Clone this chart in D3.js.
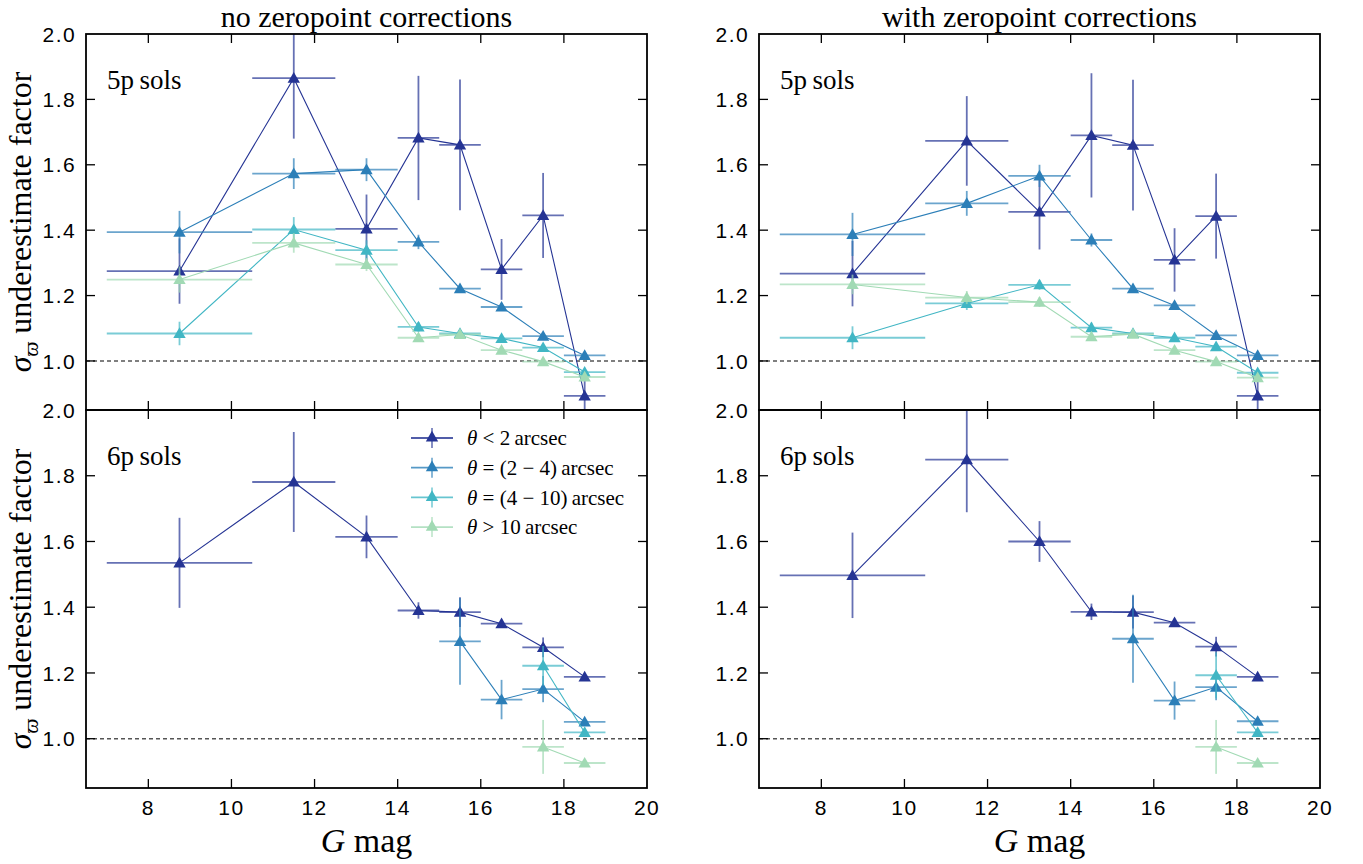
<!DOCTYPE html>
<html>
<head>
<meta charset="utf-8">
<script src="https://cdn.jsdelivr.net/npm/d3@7"></script>
<style>
  html, body { margin: 0; padding: 0; background: #fff; }
  svg { display: block; }
</style>
</head>
<body>
<svg id="fig" width="1363" height="864"></svg>
<script>
// Magnitude bins: centres and half-widths
const magCentres = [8.75, 11.5, 13.25, 14.5, 15.5, 16.5, 17.5, 18.5];
const magHalfWidths = [1.75, 1.0, 0.75, 0.5, 0.5, 0.5, 0.5, 0.5];

const seriesNames = ["lt2", "t2to4", "t4to10", "gt10"];
const seriesColours = ["#253494", "#2c7fb8", "#41b6c4", "#a1dab4"];

const xTicks = [8, 10, 12, 14, 16, 18, 20];
const yTicks = [1.0, 1.2, 1.4, 1.6, 1.8, 2.0];

const columnTitles = ["no zeropoint corrections", "with zeropoint corrections"];
const rowLabels = ["5p\u2009sols", "6p\u2009sols"];

// 5p solutions, no zeropoint corrections
const p5NoZpLt2 = [1.275, 1.865, 1.404, 1.682, 1.661, 1.280, 1.445, 0.893];
const p5NoZpLt2Err = [0.10, 0.185, 0.105, 0.19, 0.20, 0.093, 0.13, 0.06];
const p5NoZp2to4 = [1.394, 1.573, 1.585, 1.364, 1.221, 1.165, 1.076, 1.017];
const p5NoZp2to4Err = [0.065, 0.047, 0.035, 0.022, 0.012, 0.012, 0.012, 0.010];
const p5NoZp4to10 = [1.084, 1.402, 1.339, 1.104, 1.084, 1.069, 1.041, 0.966];
const p5NoZp4to10Err = [0.036, 0.038, 0.030, 0.015, 0.010, 0.010, 0.010, 0.010];
const p5NoZpGt10 = [1.249, 1.361, 1.295, 1.071, 1.081, 1.033, 0.998, 0.951];
const p5NoZpGt10Err = [0.040, 0.030, 0.020, 0.010, 0.008, 0.008, 0.008, 0.008];

// 5p solutions, with zeropoint corrections
const p5ZpLt2 = [1.267, 1.673, 1.456, 1.690, 1.660, 1.309, 1.443, 0.893];
const p5ZpLt2Err = [0.10, 0.137, 0.115, 0.19, 0.20, 0.097, 0.13, 0.06];
const p5Zp2to4 = [1.387, 1.482, 1.566, 1.370, 1.221, 1.170, 1.078, 1.017];
const p5Zp2to4Err = [0.066, 0.038, 0.034, 0.020, 0.012, 0.012, 0.012, 0.010];
const p5Zp4to10 = [1.071, 1.176, 1.233, 1.102, 1.084, 1.071, 1.044, 0.964];
const p5Zp4to10Err = [0.035, 0.020, 0.015, 0.015, 0.010, 0.010, 0.010, 0.010];
const p5ZpGt10 = [1.234, 1.194, 1.180, 1.074, 1.082, 1.033, 0.998, 0.949];
const p5ZpGt10Err = [0.030, 0.020, 0.015, 0.010, 0.008, 0.008, 0.008, 0.008];

// 6p solutions, no zeropoint corrections
const p6NoZpLt2 = [1.535, 1.781, 1.614, 1.390, 1.385, 1.350, 1.278, 1.188];
const p6NoZpLt2Err = [0.137, 0.152, 0.065, 0.025, 0.045, 0.012, 0.030, 0.010];
const p6NoZp2to4 = [null, null, null, null, 1.296, 1.119, 1.151, 1.051];
const p6NoZp2to4Err = [null, null, null, null, 0.132, 0.060, 0.040, 0.010];
const p6NoZp4to10 = [null, null, null, null, null, null, 1.222, 1.019];
const p6NoZp4to10Err = [null, null, null, null, null, null, 0.060, 0.010];
const p6NoZpGt10 = [null, null, null, null, null, null, 0.975, 0.926];
const p6NoZpGt10Err = [null, null, null, null, null, null, 0.082, 0.010];

// 6p solutions, with zeropoint corrections
const p6ZpLt2 = [1.497, 1.849, 1.600, 1.386, 1.385, 1.353, 1.280, 1.188];
const p6ZpLt2Err = [0.130, 0.160, 0.062, 0.025, 0.050, 0.012, 0.030, 0.010];
const p6Zp2to4 = [null, null, null, null, 1.304, 1.116, 1.157, 1.053];
const p6Zp2to4Err = [null, null, null, null, 0.134, 0.058, 0.040, 0.010];
const p6Zp4to10 = [null, null, null, null, null, null, 1.193, 1.019];
const p6Zp4to10Err = [null, null, null, null, null, null, 0.070, 0.010];
const p6ZpGt10 = [null, null, null, null, null, null, 0.975, 0.926];
const p6ZpGt10Err = [null, null, null, null, null, null, 0.082, 0.010];

// Panel table built from the arrays above (row, column)
const panels = [
  { row: 0, col: 0, series: [[p5NoZpLt2, p5NoZpLt2Err], [p5NoZp2to4, p5NoZp2to4Err], [p5NoZp4to10, p5NoZp4to10Err], [p5NoZpGt10, p5NoZpGt10Err]] },
  { row: 0, col: 1, series: [[p5ZpLt2, p5ZpLt2Err], [p5Zp2to4, p5Zp2to4Err], [p5Zp4to10, p5Zp4to10Err], [p5ZpGt10, p5ZpGt10Err]] },
  { row: 1, col: 0, series: [[p6NoZpLt2, p6NoZpLt2Err], [p6NoZp2to4, p6NoZp2to4Err], [p6NoZp4to10, p6NoZp4to10Err], [p6NoZpGt10, p6NoZpGt10Err]] },
  { row: 1, col: 1, series: [[p6ZpLt2, p6ZpLt2Err], [p6Zp2to4, p6Zp2to4Err], [p6Zp4to10, p6Zp4to10Err], [p6ZpGt10, p6ZpGt10Err]] }
];

// Layout
const colX = [[86, 647], [759, 1320]];
const rowY = [[34, 410], [410, 788]];
const xDomain = [6.5, 20];
const yDomain = [0.85, 2.0];

const svg = d3.select("#fig");
const serif = "'Liberation Serif', 'DejaVu Serif', serif";
const sans = "'Liberation Sans', Arial, sans-serif";

const tri = d3.symbol().type(d3.symbolTriangle).size(66);

panels.forEach((p, pi) => {
  const [x0, x1] = colX[p.col];
  const [y0, y1] = rowY[p.row];
  const x = d3.scaleLinear().domain(xDomain).range([x0, x1]);
  const y = d3.scaleLinear().domain(yDomain).range([y1, y0]);

  const clipId = "clip" + pi;
  svg.append("clipPath").attr("id", clipId)
    .append("rect").attr("x", x0).attr("y", y0).attr("width", x1 - x0).attr("height", y1 - y0);

  const g = svg.append("g");

  // reference line at factor 1
  g.append("line")
    .attr("x1", x0).attr("x2", x1)
    .attr("y1", y(1.0)).attr("y2", y(1.0))
    .attr("stroke", "#555").attr("stroke-width", 1.4)
    .attr("stroke-dasharray", "4,3");

  const plot = g.append("g").attr("clip-path", `url(#${clipId})`);

  p.series.forEach(([vals, errs], si) => {
    const colour = seriesColours[si];
    const pts = magCentres.map((m, i) => ({ m, hw: magHalfWidths[i], v: vals[i], e: errs[i] }))
      .filter(d => d.v !== null);
    const sg = plot.append("g").attr("class", "series-" + seriesNames[si]);

    // error bars
    sg.selectAll("line.xerr").data(pts).join("line").attr("class", "xerr")
      .attr("x1", d => x(d.m - d.hw)).attr("x2", d => x(d.m + d.hw))
      .attr("y1", d => y(d.v)).attr("y2", d => y(d.v))
      .attr("stroke", colour).attr("stroke-opacity", 0.7).attr("stroke-width", 1.8);
    sg.selectAll("line.yerr").data(pts).join("line").attr("class", "yerr")
      .attr("x1", d => x(d.m)).attr("x2", d => x(d.m))
      .attr("y1", d => y(d.v - d.e)).attr("y2", d => y(d.v + d.e))
      .attr("stroke", colour).attr("stroke-opacity", 0.7).attr("stroke-width", 1.8);

    // connecting line
    sg.append("path").datum(pts)
      .attr("fill", "none").attr("stroke", colour).attr("stroke-width", 1.1)
      .attr("d", d3.line().x(d => x(d.m)).y(d => y(d.v)));

    // markers
    sg.selectAll("path.mk").data(pts).join("path").attr("class", "mk")
      .attr("d", tri)
      .attr("transform", d => `translate(${x(d.m)},${y(d.v) + 1})`)
      .attr("fill", colour);
  });

  // frame
  g.append("rect").attr("x", x0).attr("y", y0).attr("width", x1 - x0).attr("height", y1 - y0)
    .attr("fill", "none").attr("stroke", "#000").attr("stroke-width", 1.8);

  // inward ticks on all sides
  const tl = 9;
  const xt = xTicks.filter(t => t > xDomain[0] && t < xDomain[1]);
  g.selectAll("line.xtb").data(xt).join("line")
    .attr("x1", d => x(d)).attr("x2", d => x(d)).attr("y1", y1).attr("y2", y1 - tl)
    .attr("stroke", "#000").attr("stroke-width", 1.3);
  g.selectAll("line.xtt").data(xt).join("line")
    .attr("x1", d => x(d)).attr("x2", d => x(d)).attr("y1", y0).attr("y2", y0 + tl)
    .attr("stroke", "#000").attr("stroke-width", 1.3);
  const yt = yTicks.filter(t => t > yDomain[0] && t < yDomain[1]);
  g.selectAll("line.ytl").data(yt).join("line")
    .attr("x1", x0).attr("x2", x0 + tl).attr("y1", d => y(d)).attr("y2", d => y(d))
    .attr("stroke", "#000").attr("stroke-width", 1.3);
  g.selectAll("line.ytr").data(yt).join("line")
    .attr("x1", x1).attr("x2", x1 - tl).attr("y1", d => y(d)).attr("y2", d => y(d))
    .attr("stroke", "#000").attr("stroke-width", 1.3);

  // y tick labels
  g.selectAll("text.ylab").data(yTicks).join("text")
    .attr("x", x0 - 10).attr("y", d => y(d))
    .attr("dy", "0.36em").attr("text-anchor", "end")
    .attr("font-family", sans).attr("font-size", 21).attr("letter-spacing", 1.4)
    .attr("fill", "#000")
    .text(d => d3.format(".1f")(d));

  // x tick labels on the bottom row
  if (p.row === 1) {
    g.selectAll("text.xlab").data(xTicks).join("text")
      .attr("x", d => x(d)).attr("y", y1 + 27)
      .attr("text-anchor", "middle")
      .attr("font-family", sans).attr("font-size", 21).attr("letter-spacing", 1.4)
      .attr("fill", "#000")
      .text(d => d);

    const xl = g.append("text")
      .attr("x", (x0 + x1) / 2).attr("y", y1 + 64)
      .attr("text-anchor", "middle")
      .attr("font-family", serif).attr("font-size", 34).attr("fill", "#000");
    xl.append("tspan").attr("font-style", "italic").text("G");
    xl.append("tspan").text(" mag");
  }

  // title on the top row
  if (p.row === 0) {
    g.append("text")
      .attr("x", (x0 + x1) / 2).attr("y", 27)
      .attr("text-anchor", "middle")
      .attr("font-family", serif).attr("font-size", 30).attr("fill", "#000")
      .text(columnTitles[p.col]);
  }

  // panel tag
  g.append("text")
    .attr("x", x0 + 21).attr("y", y0 + 55)
    .attr("font-family", serif).attr("font-size", 27).attr("fill", "#000")
    .text(rowLabels[p.row]);

  // y axis label on the left column
  if (p.col === 0) {
    const cy = (y0 + y1) / 2;
    const yl = g.append("text")
      .attr("transform", `translate(31,${cy}) rotate(-90)`)
      .attr("text-anchor", "middle")
      .attr("font-family", serif).attr("font-size", 32).attr("fill", "#000");
    yl.append("tspan").attr("font-style", "italic").text("\u03c3");
    yl.append("tspan").attr("font-style", "italic").attr("font-size", 21).attr("dy", 7).text("\u03d6");
    yl.append("tspan").attr("dy", -7).text(" underestimate factor");
  }

  // legend inside the lower-left panel
  if (p.row === 1 && p.col === 0) {
    const legendRows = [
      { pre: " < 2\u2009arcsec" },
      { pre: " = (2 \u2212 4)\u2009arcsec" },
      { pre: " = (4 \u2212 10)\u2009arcsec" },
      { pre: " > 10\u2009arcsec" }
    ];
    const lg = g.append("g");
    legendRows.forEach((r, i) => {
      const ly = y0 + 28 + i * 29.7;
      const c = seriesColours[i];
      lg.append("line").attr("x1", 411).attr("x2", 453).attr("y1", ly).attr("y2", ly)
        .attr("stroke", c).attr("stroke-width", 1.8).attr("stroke-opacity", 0.8);
      lg.append("line").attr("x1", 432).attr("x2", 432).attr("y1", ly - 10).attr("y2", ly + 10)
        .attr("stroke", c).attr("stroke-width", 1.6).attr("stroke-opacity", 0.7);
      lg.append("path").attr("d", tri).attr("transform", `translate(432,${ly})`).attr("fill", c);
      const t = lg.append("text").attr("x", 467).attr("y", ly).attr("dy", "0.35em")
        .attr("font-family", serif).attr("font-size", 21).attr("fill", "#000");
      t.append("tspan").attr("font-style", "italic").text("\u03b8");
      t.append("tspan").text(r.pre);
    });
  }
});
</script>
</body>
</html>
